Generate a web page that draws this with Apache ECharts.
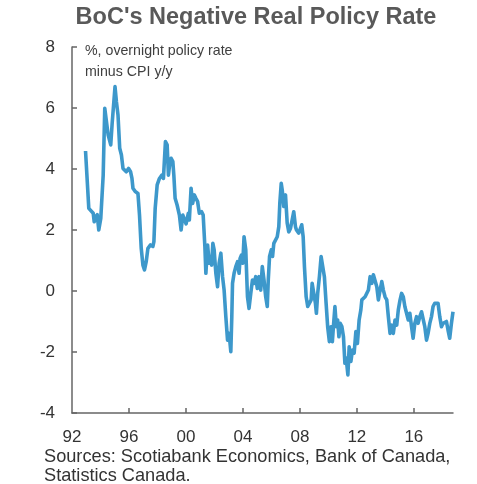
<!DOCTYPE html>
<html>
<head>
<meta charset="utf-8">
<script src="https://cdn.jsdelivr.net/npm/echarts@6/dist/echarts.min.js"></script>
<style>
html,body{margin:0;padding:0;background:#fff;}
#c{width:477px;height:484px;}
</style>
</head>
<body>
<div id="c"></div>
<script>
const titleText = "BoC's Negative Real Policy Rate";
const noteLines = ["%, overnight policy rate", "minus CPI y/y"];
const sourceLines = ["Sources: Scotiabank Economics, Bank of Canada,", "Statistics Canada."];
const yTicks = [-4, -2, 0, 2, 4, 6, 8];
const xLabelYears = [1992, 1996, 2000, 2004, 2008, 2012, 2016];
const xTickYears = [1996, 2000, 2004, 2008, 2012, 2016];

const dates = [1992.95,1993.18,1993.32,1993.49,1993.56,1993.65,1993.77,1993.88,1994.02,1994.19,1994.30,1994.42,1994.54,1994.72,1994.82,1994.93,1995.02,1995.12,1995.23,1995.35,1995.47,1995.58,1995.70,1995.81,1995.97,1996.11,1996.21,1996.28,1996.44,1996.63,1996.74,1996.86,1996.98,1997.09,1997.21,1997.33,1997.51,1997.68,1997.75,1997.84,1997.98,1998.14,1998.31,1998.42,1998.56,1998.68,1998.77,1998.87,1998.96,1999.08,1999.15,1999.24,1999.38,1999.54,1999.66,1999.78,1999.89,2000.01,2000.17,2000.24,2000.36,2000.47,2000.59,2000.70,2000.82,2000.94,2001.10,2001.21,2001.33,2001.40,2001.52,2001.63,2001.70,2001.80,2001.89,2001.98,2002.10,2002.22,2002.33,2002.45,2002.57,2002.68,2002.80,2002.92,2003.03,2003.15,2003.22,2003.27,2003.38,2003.50,2003.62,2003.73,2003.80,2003.90,2003.99,2004.08,2004.20,2004.32,2004.43,2004.55,2004.67,2004.78,2004.90,2005.01,2005.13,2005.25,2005.36,2005.48,2005.60,2005.71,2005.78,2005.87,2005.99,2006.08,2006.17,2006.29,2006.41,2006.52,2006.59,2006.69,2006.76,2006.87,2006.99,2007.11,2007.22,2007.34,2007.46,2007.57,2007.69,2007.76,2007.92,2008.04,2008.13,2008.23,2008.32,2008.44,2008.55,2008.67,2008.79,2008.86,2008.97,2009.09,2009.16,2009.25,2009.37,2009.49,2009.63,2009.72,2009.84,2009.95,2010.07,2010.18,2010.28,2010.37,2010.46,2010.56,2010.65,2010.74,2010.83,2010.95,2011.06,2011.16,2011.25,2011.37,2011.46,2011.58,2011.69,2011.81,2011.93,2012.04,2012.16,2012.28,2012.35,2012.46,2012.58,2012.70,2012.81,2012.93,2013.05,2013.16,2013.28,2013.40,2013.51,2013.63,2013.75,2013.86,2013.98,2014.10,2014.21,2014.33,2014.45,2014.56,2014.68,2014.80,2014.91,2015.03,2015.14,2015.26,2015.37,2015.49,2015.61,2015.72,2015.84,2015.95,2016.07,2016.19,2016.30,2016.42,2016.54,2016.65,2016.77,2016.89,2017.00,2017.12,2017.24,2017.35,2017.47,2017.59,2017.70,2017.82,2017.94,2018.05,2018.17,2018.29,2018.40,2018.52,2018.64,2018.75];

const realRate = [4.59,2.71,2.75,2.55,2.27,2.43,2.5,2.0,2.38,3.8,5.99,5.95,5.11,4.79,5.5,5.55,6.70,6.2,5.77,4.68,4.46,4.02,3.97,3.91,4.02,3.91,3.69,3.37,3.26,3.2,2.49,1.40,0.85,0.69,0.96,1.40,1.51,1.46,1.62,2.71,3.48,3.69,3.80,3.69,4.90,4.79,3.80,4.2,4.35,4.24,3.8,3.04,2.82,2.49,2.0,2.49,2.44,2.2,2.55,2.33,3.37,2.87,3.15,3.04,2.93,2.55,2.6,2.49,1.45,0.58,1.51,0.91,1.13,0.85,1.56,1.35,0.58,0.14,0.91,1.24,0.47,0.03,-0.84,-1.61,-1.39,-1.99,-0.84,0.25,0.58,0.8,0.96,0.58,1.07,1.18,0.91,1.78,1.35,-0.19,-0.57,-0.08,0.36,0.25,0.47,0.08,0.47,0.03,0.8,0.36,-0.19,-0.51,0.36,1.13,1.35,1.13,1.56,1.51,1.78,2.11,2.87,3.53,3.31,2.77,3.15,2.22,1.94,2.05,2.11,2.6,2.11,2.0,1.9,2.05,2.17,1.78,0.80,-0.19,-0.51,-0.46,-0.29,0.25,0.31,-0.4,-0.73,-0.08,0.47,1.13,1.07,0.47,-0.4,-1.17,-1.66,-1.17,-1.66,-1.06,-0.51,-1.17,-0.95,-1.5,-1.06,-1.17,-1.5,-2.37,-2.2,-2.75,-1.83,-2.31,-1.94,-2.04,-1.33,-1.72,-0.95,-0.62,-0.29,-0.29,-0.19,-0.13,0.03,0.47,0.25,0.53,0.58,0.14,-0.29,0.03,0.31,0.03,-0.19,-0.29,-0.84,-1.39,-1.12,-1.39,-0.95,-1.12,-0.62,-0.3,-0.08,-0.19,-0.51,-0.57,-0.95,-0.73,-1.17,-1.55,-1.06,-0.84,-1.06,-0.84,-0.68,-0.73,-1.17,-1.61,-1.39,-1.06,-0.84,-0.51,-0.4,-0.46,-0.4,-0.84,-1.17,-1.06,-1.1,-1.0,-1.28,-1.55,-1.06,-0.68];

const FONT = '"Liberation Sans", Arial, sans-serif';
const AXIS_COLOR = '#666666';
const xMin = 1992, xMax = 2018.75;

const chart = echarts.init(document.getElementById('c'), null, {renderer: 'canvas'});
chart.setOption({
  animation: false,
  backgroundColor: '#ffffff',
  grid: {left: 72, right: 24, top: 47, bottom: 71, containLabel: false},
  xAxis: [
    {
      type: 'value', min: xMin, max: xMax, position: 'bottom',
      axisLine: {show: false}, axisTick: {show: false}, splitLine: {show: false},
      axisLabel: {
        customValues: xLabelYears, margin: 16,
        fontFamily: FONT, fontSize: 17, color: '#333333',
        formatter: v => String(Math.round(v)).slice(2)
      }
    },
    {
      type: 'value', min: xMin, max: xMax, position: 'bottom',
      axisLine: {show: true, onZero: true, lineStyle: {color: AXIS_COLOR, width: 1.5}},
      axisTick: {show: true, inside: true, length: 5, customValues: xTickYears, lineStyle: {color: AXIS_COLOR, width: 1.5}},
      axisLabel: {show: false}, splitLine: {show: false}
    }
  ],
  yAxis: {
    type: 'value', min: -4, max: 8, interval: 2,
    axisLine: {show: true, onZero: false, lineStyle: {color: AXIS_COLOR, width: 1.5}},
    axisTick: {show: true, inside: true, length: 5, lineStyle: {color: AXIS_COLOR, width: 1.5}},
    splitLine: {show: false},
    axisLabel: {margin: 17, fontFamily: FONT, fontSize: 17, color: '#333333'}
  },
  series: [{
    type: 'line', xAxisIndex: 0, yAxisIndex: 0,
    data: dates.map((d, i) => [d, realRate[i]]),
    showSymbol: false, symbol: 'none',
    lineStyle: {color: '#3d98cb', width: 3.6, join: 'round'},
    z: 3
  }],
  graphic: [
    {type: 'text', x: 256, y: 18, style: {text: titleText, font: 'bold 23.5px ' + FONT, fill: '#595959', textAlign: 'center', textVerticalAlign: 'middle'}},
    {type: 'text', x: 85, y: 51, style: {text: noteLines[0], font: '14.2px ' + FONT, fill: '#404040', textVerticalAlign: 'middle'}},
    {type: 'text', x: 85, y: 72, style: {text: noteLines[1], font: '14.2px ' + FONT, fill: '#404040', textVerticalAlign: 'middle'}},
    {type: 'text', x: 44, y: 457, style: {text: sourceLines[0], font: '18.2px ' + FONT, fill: '#333333', textVerticalAlign: 'middle'}},
    {type: 'text', x: 44, y: 476, style: {text: sourceLines[1], font: '18.2px ' + FONT, fill: '#333333', textVerticalAlign: 'middle'}}
  ]
});
</script>
</body>
</html>
